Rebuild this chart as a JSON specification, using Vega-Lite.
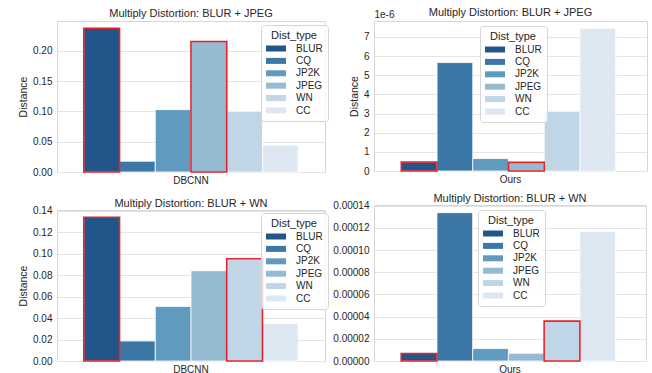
{
  "$schema": "https://vega.github.io/schema/vega-lite/v6.json",
  "padding": {"left": 18, "top": 6, "right": 0, "bottom": 0},
  "background": "white",
  "datasets": {
    "scores": [
      {"model": "DBCNN", "combo": "BLUR + JPEG", "dist": "BLUR", "distance": 0.2375, "in_mix": true},
      {"model": "DBCNN", "combo": "BLUR + JPEG", "dist": "CQ", "distance": 0.0178, "in_mix": false},
      {"model": "DBCNN", "combo": "BLUR + JPEG", "dist": "JP2K", "distance": 0.1030, "in_mix": false},
      {"model": "DBCNN", "combo": "BLUR + JPEG", "dist": "JPEG", "distance": 0.2155, "in_mix": true},
      {"model": "DBCNN", "combo": "BLUR + JPEG", "dist": "WN", "distance": 0.1003, "in_mix": false},
      {"model": "DBCNN", "combo": "BLUR + JPEG", "dist": "CC", "distance": 0.0443, "in_mix": false},
      {"model": "Ours", "combo": "BLUR + JPEG", "dist": "BLUR", "distance": 4.7e-7, "in_mix": true},
      {"model": "Ours", "combo": "BLUR + JPEG", "dist": "CQ", "distance": 5.66e-6, "in_mix": false},
      {"model": "Ours", "combo": "BLUR + JPEG", "dist": "JP2K", "distance": 6.5e-7, "in_mix": false},
      {"model": "Ours", "combo": "BLUR + JPEG", "dist": "JPEG", "distance": 4.5e-7, "in_mix": true},
      {"model": "Ours", "combo": "BLUR + JPEG", "dist": "WN", "distance": 3.12e-6, "in_mix": false},
      {"model": "Ours", "combo": "BLUR + JPEG", "dist": "CC", "distance": 7.45e-6, "in_mix": false},
      {"model": "DBCNN", "combo": "BLUR + WN", "dist": "BLUR", "distance": 0.1338, "in_mix": true},
      {"model": "DBCNN", "combo": "BLUR + WN", "dist": "CQ", "distance": 0.0186, "in_mix": false},
      {"model": "DBCNN", "combo": "BLUR + WN", "dist": "JP2K", "distance": 0.0508, "in_mix": false},
      {"model": "DBCNN", "combo": "BLUR + WN", "dist": "JPEG", "distance": 0.0840, "in_mix": false},
      {"model": "DBCNN", "combo": "BLUR + WN", "dist": "WN", "distance": 0.0951, "in_mix": true},
      {"model": "DBCNN", "combo": "BLUR + WN", "dist": "CC", "distance": 0.0347, "in_mix": false},
      {"model": "Ours", "combo": "BLUR + WN", "dist": "BLUR", "distance": 0.0000068, "in_mix": true},
      {"model": "Ours", "combo": "BLUR + WN", "dist": "CQ", "distance": 0.0001337, "in_mix": false},
      {"model": "Ours", "combo": "BLUR + WN", "dist": "JP2K", "distance": 0.0000112, "in_mix": false},
      {"model": "Ours", "combo": "BLUR + WN", "dist": "JPEG", "distance": 0.0000070, "in_mix": false},
      {"model": "Ours", "combo": "BLUR + WN", "dist": "WN", "distance": 0.0000359, "in_mix": true},
      {"model": "Ours", "combo": "BLUR + WN", "dist": "CC", "distance": 0.0001166, "in_mix": false}
    ]
  },
  "data": {"name": "scores"},
  "hconcat": [
    {
      "vconcat": [
        {
          "title": {"text": "Multiply Distortion: BLUR + JPEG", "offset": 2},
          "width": 268,
          "height": 151,
          "transform": [{"filter": "datum.model === 'DBCNN' && datum.combo === 'BLUR + JPEG'"}],
          "encoding": {
            "x": {"field": "model", "type": "nominal", "title": null, "scale": {"paddingInner": 0, "paddingOuter": 0.125}, "axis": {"labelAngle": 0}},
            "xOffset": {"field": "dist", "type": "nominal", "scale": {"domain": ["BLUR", "CQ", "JP2K", "JPEG", "WN", "CC"], "paddingInner": 0, "paddingOuter": 0}},
            "y": {"field": "distance", "type": "quantitative", "title": "Distance", "scale": {"domain": [0, 0.2494], "nice": false}, "axis": {"values": [0, 0.05, 0.1, 0.15, 0.2], "format": ".2f"}}
          },
          "layer": [
            {
              "mark": {"type": "bar", "stroke": "white", "strokeWidth": 0.8},
              "encoding": {
                "color": {"field": "dist", "type": "nominal", "title": "Dist_type",
                  "scale": {"domain": ["BLUR", "CQ", "JP2K", "JPEG", "WN", "CC"], "range": ["#23558a", "#3b78a8", "#609abe", "#94bbd2", "#c0d5e6", "#dde7f2"]},
                  "legend": {"legendX": 204, "legendY": 4}}
              }
            },
            {
              "transform": [{"filter": "datum.in_mix"}],
              "mark": {"type": "bar", "fill": null, "stroke": "#e8222b", "strokeWidth": 1.6}
            }
          ]
        },
        {
          "title": {"text": "Multiply Distortion: BLUR + WN", "offset": -3},
          "width": 268,
          "height": 151,
          "transform": [{"filter": "datum.model === 'DBCNN' && datum.combo === 'BLUR + WN'"}],
          "encoding": {
            "x": {"field": "model", "type": "nominal", "title": null, "scale": {"paddingInner": 0, "paddingOuter": 0.125}, "axis": {"labelAngle": 0}},
            "xOffset": {"field": "dist", "type": "nominal", "scale": {"domain": ["BLUR", "CQ", "JP2K", "JPEG", "WN", "CC"], "paddingInner": 0, "paddingOuter": 0}},
            "y": {"field": "distance", "type": "quantitative", "title": "Distance", "scale": {"domain": [0, 0.1405], "nice": false}, "axis": {"values": [0, 0.02, 0.04, 0.06, 0.08, 0.1, 0.12, 0.14], "format": ".2f"}}
          },
          "layer": [
            {
              "mark": {"type": "bar", "stroke": "white", "strokeWidth": 0.8},
              "encoding": {
                "color": {"field": "dist", "type": "nominal", "title": "Dist_type",
                  "scale": {"domain": ["BLUR", "CQ", "JP2K", "JPEG", "WN", "CC"], "range": ["#23558a", "#3b78a8", "#609abe", "#94bbd2", "#c0d5e6", "#dde7f2"]},
                  "legend": {"legendX": 204, "legendY": 3}}
              }
            },
            {
              "transform": [{"filter": "datum.in_mix"}],
              "mark": {"type": "bar", "fill": null, "stroke": "#e8222b", "strokeWidth": 1.6}
            }
          ]
        }
      ],
      "spacing": 11,
      "resolve": {"scale": {"x": "independent", "y": "independent"}, "legend": {"color": "independent"}}
    },
    {
      "vconcat": [
        {
          "title": {"text": "Multiply Distortion: BLUR + JPEG", "offset": -9},
          "width": 273,
          "height": 150,
          "transform": [{"filter": "datum.model === 'Ours' && datum.combo === 'BLUR + JPEG'"}],
          "encoding": {
            "x": {"field": "model", "type": "nominal", "title": null, "scale": {"paddingInner": 0, "paddingOuter": 0.125}, "axis": {"labelAngle": 0}},
            "xOffset": {"field": "dist", "type": "nominal", "scale": {"domain": ["BLUR", "CQ", "JP2K", "JPEG", "WN", "CC"], "paddingInner": 0, "paddingOuter": 0}},
            "y": {"field": "distance", "type": "quantitative", "title": "Distance", "scale": {"domain": [0, 7.83e-6], "nice": false},
              "axis": {"values": [0, 1e-6, 2e-6, 3e-6, 4e-6, 5e-6, 6e-6, 7e-6], "labelExpr": "format(datum.value * 1e6, '.0f')"}}
          },
          "layer": [
            {
              "mark": {"type": "bar", "stroke": "white", "strokeWidth": 0.8},
              "encoding": {
                "color": {"field": "dist", "type": "nominal", "title": "Dist_type",
                  "scale": {"domain": ["BLUR", "CQ", "JP2K", "JPEG", "WN", "CC"], "range": ["#23558a", "#3b78a8", "#609abe", "#94bbd2", "#c0d5e6", "#dde7f2"]},
                  "legend": {"legendX": 106, "legendY": 5}}
              }
            },
            {
              "transform": [{"filter": "datum.in_mix"}],
              "mark": {"type": "bar", "fill": null, "stroke": "#e8222b", "strokeWidth": 1.6},
              "encoding": {
                "y": {"field": "distance", "type": "quantitative", "title": "1e-6", "scale": {"domain": [0, 7.83e-6], "nice": false},
                  "axis": {"orient": "left", "labels": false, "grid": false, "titleAngle": 0, "titleAlign": "left", "titleBaseline": "bottom", "titleX": 0, "titleY": -2, "titleFontSize": 10}}
              }
            }
          ],
          "resolve": {"axis": {"y": "independent"}}
        },
        {
          "title": {"text": "Multiply Distortion: BLUR + WN", "offset": -3},
          "width": 272,
          "height": 156,
          "transform": [{"filter": "datum.model === 'Ours' && datum.combo === 'BLUR + WN'"}],
          "encoding": {
            "x": {"field": "model", "type": "nominal", "title": null, "scale": {"paddingInner": 0, "paddingOuter": 0.125}, "axis": {"labelAngle": 0}},
            "xOffset": {"field": "dist", "type": "nominal", "scale": {"domain": ["BLUR", "CQ", "JP2K", "JPEG", "WN", "CC"], "paddingInner": 0, "paddingOuter": 0}},
            "y": {"field": "distance", "type": "quantitative", "title": null, "scale": {"domain": [0, 0.0001406], "nice": false},
              "axis": {"values": [0, 0.00002, 0.00004, 0.00006, 0.00008, 0.0001, 0.00012, 0.00014], "format": ".5f"}}
          },
          "layer": [
            {
              "mark": {"type": "bar", "stroke": "white", "strokeWidth": 0.8},
              "encoding": {
                "color": {"field": "dist", "type": "nominal", "title": "Dist_type",
                  "scale": {"domain": ["BLUR", "CQ", "JP2K", "JPEG", "WN", "CC"], "range": ["#23558a", "#3b78a8", "#609abe", "#94bbd2", "#c0d5e6", "#dde7f2"]},
                  "legend": {"legendX": 104, "legendY": 5}}
              }
            },
            {
              "transform": [{"filter": "datum.in_mix"}],
              "mark": {"type": "bar", "fill": null, "stroke": "#e8222b", "strokeWidth": 1.6}
            }
          ]
        }
      ],
      "spacing": 7,
      "resolve": {"scale": {"x": "independent", "y": "independent"}, "legend": {"color": "independent"}}
    }
  ],
  "spacing": 3,
  "resolve": {"scale": {"x": "independent", "y": "independent"}, "legend": {"color": "independent"}},
  "config": {
    "font": "Liberation Sans",
    "view": {"stroke": "#d6d6d6", "strokeWidth": 1},
    "title": {"fontSize": 11, "fontWeight": "normal", "color": "#262626", "offset": 3},
    "axis": {
      "labelFontSize": 10,
      "labelColor": "#262626",
      "titleFontSize": 10.5,
      "titleFontWeight": "normal",
      "titleColor": "#262626",
      "titlePadding": 4,
      "gridColor": "#e4e4e4",
      "domain": false,
      "ticks": false,
      "labelPadding": 5
    },
    "axisX": {"grid": false, "labelPadding": 3},
    "legend": {
      "orient": "none",
      "titleFontSize": 11,
      "titleFontWeight": "normal",
      "titleColor": "#262626",
      "titleAnchor": "middle",
      "titleAlign": "center",
      "titlePadding": 2.5,
      "labelFontSize": 10,
      "labelColor": "#262626",
      "symbolType": "M-2,-0.6H2V0.6H-2Z",
      "symbolSize": 100,
      "symbolStrokeWidth": 0,
      "symbolOffset": 5,
      "labelOffset": 15,
      "rowPadding": 2.4,
      "padding": 5,
      "fillColor": "rgba(255,255,255,0.8)",
      "strokeColor": "#d6d6d6",
      "cornerRadius": 3
    }
  }
}
